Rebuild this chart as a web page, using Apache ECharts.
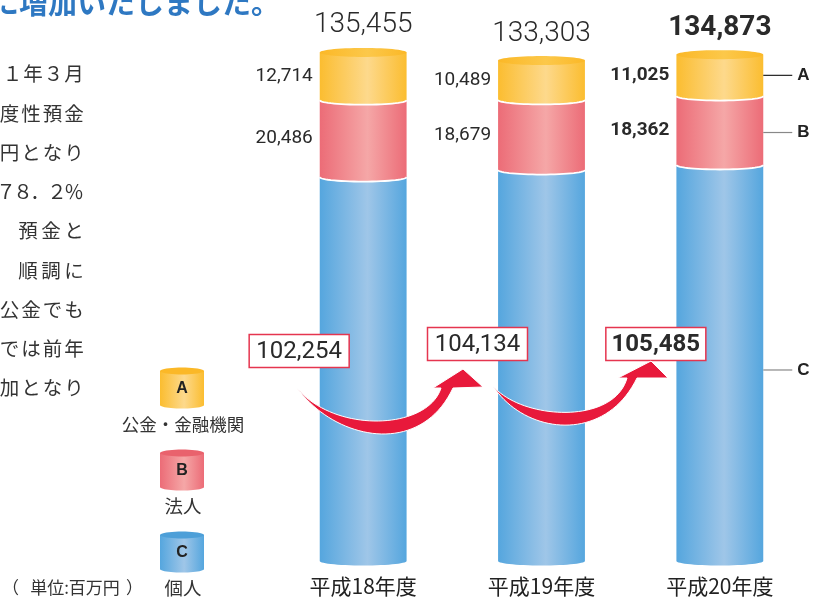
<!DOCTYPE html>
<html><head><meta charset="utf-8">
<script src="https://cdn.jsdelivr.net/npm/echarts@6/dist/echarts.min.js"></script>
<style>html,body{margin:0;padding:0;background:#fff}#c{width:814px;height:599px}</style>
</head><body><div id="c"></div>
<script>
// ---- data ----
const categories = ['平成18年度', '平成19年度', '平成20年度'];
const seriesA = [12714, 10489, 11025];      // A 公金・金融機関
const seriesB = [20486, 18679, 18362];      // B 法人
const seriesC = [102254, 104134, 105485];   // C 個人
const totals = [135455, 133303, 134873];
const legendLetters = ['A', 'B', 'C'];
const legendNames = ['公金・金融機関', '法人', '個人'];
const unitParts = ['（', '単位:百万円', '）'];
const titleText = 'に増加いたしました。';
const paraLines = ['１年３月', '度性預金', '円となり', '７８．２％', '預金と', '順調に', '公金でも', 'では前年', '加となり'];

// ---- layout / style constants ----
const NUM_FONT = 'Roboto, "Liberation Sans", sans-serif';
const JP_FONT = '"Noto Sans CJK JP", sans-serif';
const LAT_FONT = '"Liberation Sans", Arial, sans-serif';
const BAR_RATIO = 0.487;
const RY = 4.5;
const C_BOX_Y = [351, 344, 344];
const PARA_PITCH = [20.5, 21.5, 21.5, 17, 23, 23, 21.5, 21.5, 21.5];
const palette = {
  A: { edge: '#fbbd30', light: '#fdd98c', cap: '#fbb827' },
  B: { edge: '#ec6c77', light: '#f5a7a7', cap: '#e9626d' },
  C: { edge: '#55a6de', light: '#9fc6e8', cap: '#4d9fd8' }
};

function grad(edge, light) {
  return new echarts.graphic.LinearGradient(0, 0, 1, 0, [
    { offset: 0, color: edge }, { offset: 0.55, color: light }, { offset: 1, color: edge }]);
}
function arc(cx, cy, rx, ry, a0, a1, n) {
  const pts = [];
  for (let k = 0; k <= n; k++) { const t = a0 + (a1 - a0) * k / n; pts.push([cx + rx * Math.cos(t), cy + ry * Math.sin(t)]); }
  return pts;
}
function cubic(p0, p1, p2, p3, n) {
  const pts = [];
  for (let k = 0; k <= n; k++) {
    const t = k / n, u = 1 - t;
    pts.push([u*u*u*p0[0] + 3*u*u*t*p1[0] + 3*u*t*t*p2[0] + t*t*t*p3[0],
              u*u*u*p0[1] + 3*u*u*t*p1[1] + 3*u*t*t*p2[1] + t*t*t*p3[1]]);
  }
  return pts;
}
function fmt(v) { return v.toLocaleString('en-US'); }
function txt(x, y, text, font, fill, align, valign) {
  return { x: x, y: y, text: text, font: font, fill: fill,
    align: align, textAlign: align, verticalAlign: valign, textVerticalAlign: valign };
}

function makeRender(key) {
  return function (params, api) {
    const i = api.value(0);
    const cx = api.coord([i, 0])[0];
    const y0 = api.coord([i, api.value(1)])[1];
    const y1 = api.coord([i, api.value(2)])[1];
    const rx = api.size([1, 0])[0] * BAR_RATIO / 2;
    const xl = cx - rx, xr = cx + rx;
    const p = palette[key];
    const last = i === categories.length - 1;
    const children = [];
    const bottomArc = arc(cx, y0, rx, RY, 0, Math.PI, 30);
    children.push({ type: 'polygon', shape: { points: [[xl, y1], [xr, y1]].concat(bottomArc) },
      style: { fill: grad(p.edge, p.light) } });
    if (key !== 'C') {
      children.push({ type: 'polyline', shape: { points: bottomArc }, style: { stroke: '#fff', lineWidth: 1.8, fill: null } });
    }
    const mid = (y0 + y1) / 2;
    if (key === 'A') {
      children.push({ type: 'polygon', shape: { points: arc(cx, y1, rx, RY, 0, 2 * Math.PI, 60) },
        style: { fill: grad(p.cap, '#fcc84a') } });
      children.push({ type: 'text', style: txt(cx, y1 - 27, fmt(totals[i]),
        (last ? 'bold ' : '300 ') + '28px ' + NUM_FONT, '#2a2a2a', 'center', 'middle') });
    }
    if (key === 'C') {
      const bx = cx - 64, by = C_BOX_Y[i];
      children.push({ type: 'rect', shape: { x: bx - 50, y: by - 16.5, width: 100, height: 33 },
        style: { fill: '#fff', stroke: '#e5354f', lineWidth: 1.5 } });
      children.push({ type: 'text', style: txt(bx, by + 1, fmt(api.value(3)),
        (last ? 'bold ' : '') + '24px ' + NUM_FONT, '#2a2a2a', 'center', 'middle') });
    } else {
      children.push({ type: 'text', style: txt(xl - 7, mid, fmt(api.value(3)),
        (last ? 'bold ' : '') + '19px ' + NUM_FONT, '#2a2a2a', 'right', 'middle') });
    }
    if (last) {
      const ay = key === 'C' ? mid + 7 : (key === 'B' ? mid + 2 : mid);
      children.push({ type: 'line', shape: { x1: xr, y1: ay, x2: xr + 29, y2: ay },
        style: { stroke: key === 'A' ? '#222' : '#888', lineWidth: 1.2 } });
      children.push({ type: 'text', style: txt(xr + 34, ay, key, 'bold 17px ' + LAT_FONT, '#222', 'left', 'middle') });
    }
    return { type: 'group', children: children };
  };
}

const dataC = categories.map((_, i) => [i, 0, seriesC[i], seriesC[i]]);
const dataB = categories.map((_, i) => [i, seriesC[i], seriesC[i] + seriesB[i], seriesB[i]]);
const dataA = categories.map((_, i) => [i, seriesC[i] + seriesB[i], seriesC[i] + seriesB[i] + seriesA[i], seriesA[i]]);

// ---- decorations ----
const graphics = [];
graphics.push({ type: 'text', z: 50, style: txt(-10, 3, titleText, 'bold 29px ' + JP_FONT, '#2e78c2', 'left', 'middle') });
paraLines.forEach((s, k) => {
  const chars = Array.from(s), n = chars.length, P = PARA_PITCH[k];
  chars.forEach((ch, j) => {
    graphics.push({ type: 'text', z: 50,
      style: txt(74 - (n - 1 - j) * P, 74 + k * 39.25, ch, '19.5px ' + JP_FONT, '#333', 'center', 'middle') });
  });
});
function legendCyl(cx, yt, yb, key, letter) {
  const p = palette[key], rx = 22, ry = 3.5;
  return [
    { type: 'polygon', z: 50, shape: { points: [[cx - rx, yt], [cx + rx, yt]].concat(arc(cx, yb, rx, ry, 0, Math.PI, 24)) },
      style: { fill: grad(p.edge, p.light) } },
    { type: 'polygon', z: 51, shape: { points: arc(cx, yt, rx, ry, 0, 2 * Math.PI, 40) }, style: { fill: p.cap } },
    { type: 'text', z: 52, style: txt(cx, (yt + yb) / 2 + 1, letter, 'bold 16px ' + LAT_FONT, '#222', 'center', 'middle') }
  ];
}
const legTops = [371, 453, 535];
['A', 'B', 'C'].forEach((k, j) => {
  legendCyl(182, legTops[j], legTops[j] + 34, k, legendLetters[j]).forEach(g => graphics.push(g));
  graphics.push({ type: 'text', z: 52, style: txt(183, legTops[j] + 53, legendNames[j],
    (j === 0 ? '17.5px ' : '18.5px ') + JP_FONT, '#333', 'center', 'middle') });
});
graphics.push({ type: 'text', z: 52, style: txt(2, 588, unitParts[0], '17px ' + JP_FONT, '#333', 'left', 'middle') });
graphics.push({ type: 'text', z: 52, style: txt(75, 588, unitParts[1], '17px ' + JP_FONT, '#333', 'center', 'middle') });
graphics.push({ type: 'text', z: 52, style: txt(143, 588, unitParts[2], '17px ' + JP_FONT, '#333', 'right', 'middle') });

const arrows = [
  { outer: [[297, 388], [335, 440], [420, 458], [453, 388]], head: [[483, 387], [463, 369], [433, 388]],
    inner: [[441, 388], [428, 430], [335, 434], [297, 388]] },
  { outer: [[493, 386], [525, 435], [605, 444], [637, 378]], head: [[668, 378], [651, 361], [618, 378]],
    inner: [[627, 378], [614, 425], [522, 420], [493, 386]] }
];
arrows.forEach(a => {
  const pts = cubic(a.outer[0], a.outer[1], a.outer[2], a.outer[3], 40).concat(a.head)
    .concat(cubic(a.inner[0], a.inner[1], a.inner[2], a.inner[3], 40));
  graphics.push({ type: 'polygon', z: 60, shape: { points: pts }, style: { fill: '#e8193b', stroke: '#fff', lineWidth: 1 } });
});

const chart = echarts.init(document.getElementById('c'), null, { renderer: 'canvas' });
chart.setOption({
  animation: false,
  backgroundColor: '#fff',
  grid: { left: 274, right: 5, top: 35.4, bottom: 38 },
  xAxis: { type: 'category', data: categories, axisLine: { show: false }, axisTick: { show: false },
    splitLine: { show: false },
    axisLabel: { margin: 15, fontSize: 21, color: '#222', fontFamily: '"Noto Sans CJK JP", sans-serif' } },
  yAxis: { type: 'value', min: 0, max: 140000, show: false, splitLine: { show: false } },
  graphic: { elements: graphics },
  series: [
    { type: 'custom', name: 'C', renderItem: makeRender('C'), data: dataC, encode: { x: 0, y: [1, 2] }, z: 2 },
    { type: 'custom', name: 'B', renderItem: makeRender('B'), data: dataB, encode: { x: 0, y: [1, 2] }, z: 3 },
    { type: 'custom', name: 'A', renderItem: makeRender('A'), data: dataA, encode: { x: 0, y: [1, 2] }, z: 4 }
  ]
});
</script>
</body></html>
